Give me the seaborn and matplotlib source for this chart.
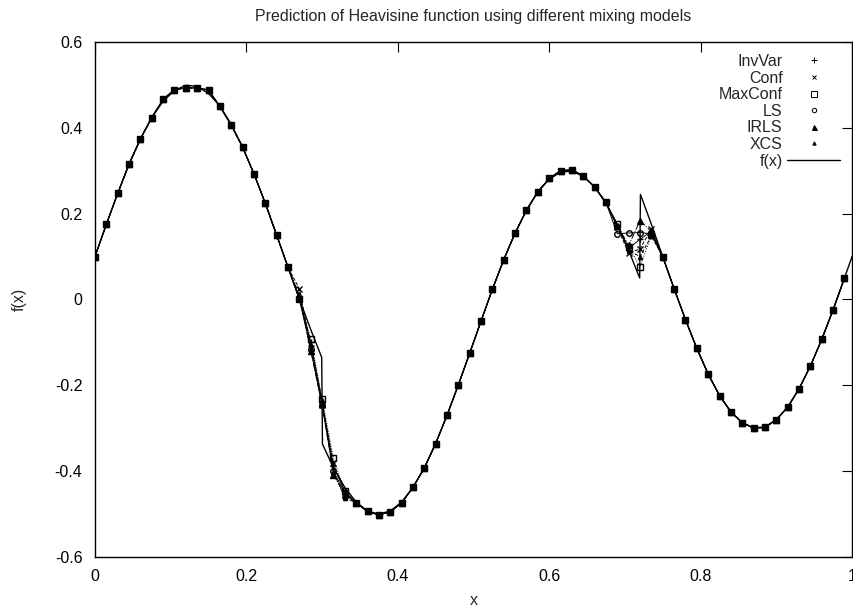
import matplotlib
matplotlib.use("Agg")
import pandas as pd
import seaborn as sns
import matplotlib.pyplot as plt
from matplotlib.lines import Line2D

# test points (x) where the mixing models were evaluated
x_pts = [0.000, 0.015, 0.030, 0.045, 0.060, 0.075, 0.090, 0.105, 0.120, 0.135,
         0.150, 0.165, 0.180, 0.195, 0.210, 0.225, 0.240, 0.255, 0.270, 0.285,
         0.300, 0.315, 0.330, 0.345, 0.360, 0.375, 0.390, 0.405, 0.420, 0.435,
         0.450, 0.465, 0.480, 0.495, 0.510, 0.525, 0.540, 0.555, 0.570, 0.585,
         0.600, 0.615, 0.630, 0.645, 0.660, 0.675, 0.690, 0.705, 0.720, 0.735,
         0.750, 0.765, 0.780, 0.795, 0.810, 0.825, 0.840, 0.855, 0.870, 0.885,
         0.900, 0.915, 0.930, 0.945, 0.960, 0.975, 0.990]

# predictions shared by all models (they overlap away from the jumps)
pred_base = [0.100, 0.175, 0.247, 0.316, 0.374, 0.424, 0.466, 0.489, 0.493, 0.493,
             0.488, 0.450, 0.406, 0.355, 0.293, 0.224, 0.150, 0.075, 0.002, -0.110,
             -0.240, -0.392, -0.448, -0.474, -0.494, -0.502, -0.495, -0.474, -0.438, -0.393,
             -0.336, -0.270, -0.199, -0.125, -0.050, 0.024, 0.093, 0.155, 0.208, 0.251,
             0.282, 0.300, 0.302, 0.288, 0.262, 0.226, 0.174, 0.118, 0.135, 0.150,
             0.099, 0.025, -0.047, -0.114, -0.174, -0.224, -0.262, -0.287, -0.300, -0.298,
             -0.280, -0.251, -0.208, -0.155, -0.093, -0.024, 0.050]

# model-specific predictions around the jump at x=0.3 (points 18..22)
invvar_jump_a = [0.004, -0.100, -0.238, -0.388, -0.447]
conf_jump_a = [0.025, -0.112, -0.245, -0.382, -0.450]
maxconf_jump_a = [0.002, -0.092, -0.232, -0.370, -0.446]
ls_jump_a = [0.000, -0.115, -0.247, -0.400, -0.452]
irls_jump_a = [0.010, -0.120, -0.243, -0.408, -0.455]
xcs_jump_a = [0.002, -0.105, -0.235, -0.402, -0.462]

# model-specific predictions around the jump at x=0.72 (points 46..49)
invvar_jump_b = [0.170, 0.120, 0.140, 0.160]
conf_jump_b = [0.168, 0.108, 0.118, 0.165]
maxconf_jump_b = [0.176, 0.122, 0.076, 0.150]
ls_jump_b = [0.153, 0.155, 0.156, 0.153]
irls_jump_b = [0.172, 0.126, 0.184, 0.158]
xcs_jump_b = [0.174, 0.114, 0.100, 0.148]

# target function f(x), with the two discontinuities
fx_x = [0.000, 0.015, 0.030, 0.045, 0.060, 0.075, 0.090, 0.105, 0.120, 0.135,
        0.150, 0.165, 0.180, 0.195, 0.210, 0.225, 0.240, 0.255, 0.270, 0.285,
        0.2995, 0.3005, 0.315, 0.330, 0.345, 0.360, 0.375, 0.390, 0.405, 0.420,
        0.435, 0.450, 0.465, 0.480, 0.495, 0.510, 0.525, 0.540, 0.555, 0.570,
        0.585, 0.600, 0.615, 0.630, 0.645, 0.660, 0.675, 0.690, 0.705, 0.7195,
        0.7205, 0.735, 0.750, 0.765, 0.780, 0.795, 0.810, 0.825, 0.840, 0.855,
        0.870, 0.885, 0.900, 0.915, 0.930, 0.945, 0.960, 0.975, 0.990, 1.000]
fx_y = [0.100, 0.175, 0.247, 0.314, 0.374, 0.424, 0.462, 0.487, 0.499, 0.497,
        0.480, 0.451, 0.408, 0.355, 0.293, 0.224, 0.150, 0.075, 0.001, -0.070,
        -0.135, -0.337, -0.392, -0.438, -0.472, -0.493, -0.500, -0.493, -0.472, -0.438,
        -0.392, -0.335, -0.270, -0.199, -0.125, -0.050, 0.024, 0.093, 0.155, 0.208,
        0.251, 0.280, 0.297, 0.299, 0.287, 0.262, 0.224, 0.174, 0.114, 0.050,
        0.245, 0.175, 0.100, 0.025, -0.047, -0.114, -0.174, -0.224, -0.262, -0.287,
        -0.299, -0.297, -0.280, -0.251, -0.208, -0.155, -0.093, -0.024, 0.050, 0.100]

models = ["InvVar", "Conf", "MaxConf", "LS", "IRLS", "XCS"]
jumps_a = [invvar_jump_a, conf_jump_a, maxconf_jump_a, ls_jump_a, irls_jump_a, xcs_jump_a]
jumps_b = [invvar_jump_b, conf_jump_b, maxconf_jump_b, ls_jump_b, irls_jump_b, xcs_jump_b]

# build a long table with one block per model
rows = []
for name, ja, jb in zip(models, jumps_a, jumps_b):
    vals = list(pred_base)
    vals[18:23] = ja
    vals[46:50] = jb
    for x, y in zip(x_pts, vals):
        rows.append({"model": name, "x": x, "y": y})
pred_df = pd.DataFrame(rows)
fx_df = pd.DataFrame({"x": fx_x, "y": fx_y})

# marker / line look for each model (gnuplot-like, monochrome)
styles = {
    "InvVar": dict(marker="+", markersize=5, markerfacecolor="black", linestyle="-"),
    "Conf": dict(marker="x", markersize=4, markerfacecolor="black", linestyle="--"),
    "MaxConf": dict(marker="s", markersize=5, markerfacecolor="none", linestyle=":"),
    "LS": dict(marker="o", markersize=4, markerfacecolor="none", linestyle="-"),
    "IRLS": dict(marker="^", markersize=4.5, markerfacecolor="black", linestyle="-."),
    "XCS": dict(marker="^", markersize=3, markerfacecolor="black", linestyle="--"),
}

sns.set_style("white")
plt.rcParams["font.family"] = ["Liberation Sans", "DejaVu Sans"]
fs = 11.5

fig = plt.figure(figsize=(8.54, 6.13), dpi=100)
ax = fig.add_axes([0.1112, 0.0914, 0.8865, 0.8401])

for name in models:
    sub = pred_df[pred_df["model"] == name]
    st = styles[name]
    sns.lineplot(data=sub, x="x", y="y", ax=ax, color="black", lw=0.7,
                 estimator=None, sort=False,
                 marker=st["marker"], markersize=st["markersize"],
                 markerfacecolor=st["markerfacecolor"], markeredgecolor="black",
                 markeredgewidth=1.0, linestyle=st["linestyle"])

sns.lineplot(data=fx_df, x="x", y="y", ax=ax, color="black", lw=1.0,
             estimator=None, sort=False)

ax.set_xlim(0, 1)
ax.set_ylim(-0.6, 0.6)
ax.set_xticks([0, 0.2, 0.4, 0.6, 0.8, 1.0])
ax.set_xticklabels(["0", "0.2", "0.4", "0.6", "0.8", "1"])
ax.set_yticks([-0.6, -0.4, -0.2, 0, 0.2, 0.4, 0.6])
ax.set_yticklabels(["-0.6", "-0.4", "-0.2", "0", "0.2", "0.4", "0.6"])
ax.tick_params(direction="in", length=7, width=0.8, top=True, right=True,
               labelsize=fs, pad=9, colors="black")
for sp in ax.spines.values():
    sp.set_color("black")
    sp.set_linewidth(1.0)

ax.set_xlabel("x", fontsize=fs, labelpad=6)
ax.set_ylabel("f(x)", fontsize=fs, labelpad=20)
ax.set_title("Prediction of Heavisine function using different mixing models",
             fontsize=fs, pad=15)

# legend: text right-aligned, sample on the right (gnuplot style)
handles = []
for name in models:
    st = styles[name]
    handles.append(Line2D([], [], linestyle="none", color="black", marker=st["marker"],
                          markersize=st["markersize"] * 0.8,
                          markerfacecolor=st["markerfacecolor"],
                          markeredgecolor="black", markeredgewidth=0.7))
handles.append(Line2D([], [], color="black", lw=1.0))
labels = models + ["f(x)"]
ax.legend(handles, labels, loc="upper right", frameon=False, markerfirst=False,
          fontsize=fs, handlelength=3.3, handletextpad=0.3, labelspacing=0.1,
          borderaxespad=0.7, borderpad=0.05)

fig.savefig("out.png", dpi=100)
